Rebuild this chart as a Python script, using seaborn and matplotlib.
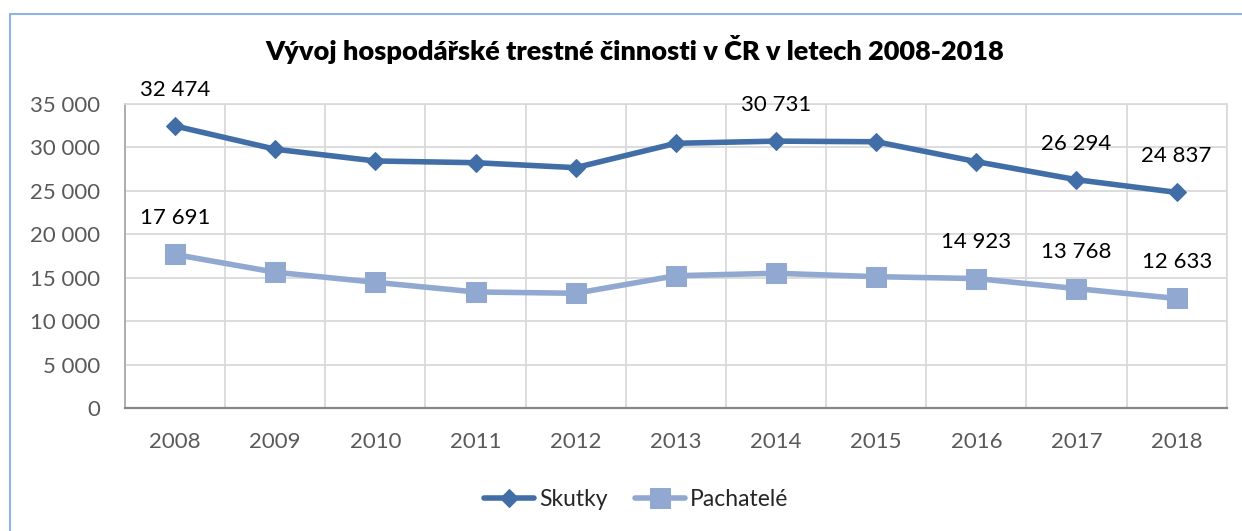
import matplotlib
matplotlib.use("Agg")
import matplotlib.pyplot as plt
import matplotlib.ticker as mticker
from matplotlib.lines import Line2D
import pandas as pd
import seaborn as sns

# data
years = [2008, 2009, 2010, 2011, 2012, 2013, 2014, 2015, 2016, 2017, 2018]
skutky = [32474, 29800, 28450, 28250, 27680, 30480, 30731, 30660, 28370, 26294, 24837]
pachatele = [17691, 15650, 14490, 13380, 13230, 15250, 15530, 15140, 14923, 13768, 12633]
skutky_labeled = [2008, 2014, 2017, 2018]
pachatele_labeled = [2008, 2016, 2017, 2018]
series_names = ["Skutky", "Pachatelé"]
title = "Vývoj hospodářské trestné činnosti v ČR v letech 2008-2018"

df = pd.DataFrame({
    "rok": years * 2,
    "hodnota": skutky + pachatele,
    "serie": [series_names[0]] * len(years) + [series_names[1]] * len(years),
})

sns.set_theme(style="white")
plt.rcParams["font.family"] = ["Lato", "DejaVu Sans"]

colors = {"Skutky": "#416EA6", "Pachatelé": "#91A8D0"}
markers = {"Skutky": "D", "Pachatelé": "s"}
msizes = {"Skutky": 9.5, "Pachatelé": 14}

fig = plt.figure(figsize=(12.42, 5.31), dpi=100)
ax = fig.add_axes([0.1006, 0.2311, 0.8871, 0.5730])

for name in series_names:
    sub = df[df["serie"] == name]
    sns.lineplot(data=sub, x="rok", y="hodnota", ax=ax, color=colors[name],
                 linewidth=4, marker=markers[name], markersize=msizes[name],
                 markeredgecolor=colors[name], label=name)

# data labels
for name, lab_years in zip(series_names, [skutky_labeled, pachatele_labeled]):
    sub = df[df["serie"] == name].set_index("rok")
    for yr in lab_years:
        v = sub.loc[yr, "hodnota"]
        ax.annotate(f"{v:,}".replace(",", " "), (yr, v), xytext=(0, 26),
                    textcoords="offset points", ha="center", va="center",
                    fontsize=16, color="black")

ax.set_xlim(years[0] - 0.5, years[-1] + 0.5)
ax.set_ylim(0, 35000)
ax.set_xticks(years)
ax.set_xticks([y + 0.5 for y in [years[0] - 1] + years], minor=True)
ax.yaxis.set_major_locator(mticker.MultipleLocator(5000))
ax.yaxis.set_major_formatter(mticker.FuncFormatter(lambda v, p: f"{int(v):,}".replace(",", " ")))
ax.grid(True, axis="y", which="major", color="#D9D9D9", linewidth=1.3)
ax.grid(True, axis="x", which="minor", color="#D9D9D9", linewidth=1.3)
ax.set_axisbelow(True)
ax.tick_params(axis="both", which="both", length=0, labelsize=16, labelcolor="#595959")
ax.tick_params(axis="y", pad=18)
ax.tick_params(axis="x", pad=17)
ax.set_xlabel("")
ax.set_ylabel("")
for s in ["top", "right"]:
    ax.spines[s].set_color("#D9D9D9")
ax.spines["left"].set_color("#A6A6A6")
ax.spines["bottom"].set_color("#868686")
ax.spines["bottom"].set_linewidth(1.6)

fig.text(0.511, 0.906, title, ha="center", va="center", fontsize=19.5,
         fontweight="heavy", color="black")

ax.legend(loc="center", bbox_to_anchor=(0.464, -0.30), ncol=2, frameon=False,
          fontsize=16.5, handlelength=2.2, columnspacing=1.2, handletextpad=0.2)

# chart frame (top and left edge visible in the reference)
fig.add_artist(Line2D([10 / 1242, 10 / 1242], [0, 1 - 14 / 531], transform=fig.transFigure,
                      color="#8DB4E2", linewidth=1.5))
fig.add_artist(Line2D([10 / 1242, 1], [1 - 14 / 531, 1 - 14 / 531], transform=fig.transFigure,
                      color="#8DB4E2", linewidth=1.5))

fig.savefig("out.png", dpi=100)
